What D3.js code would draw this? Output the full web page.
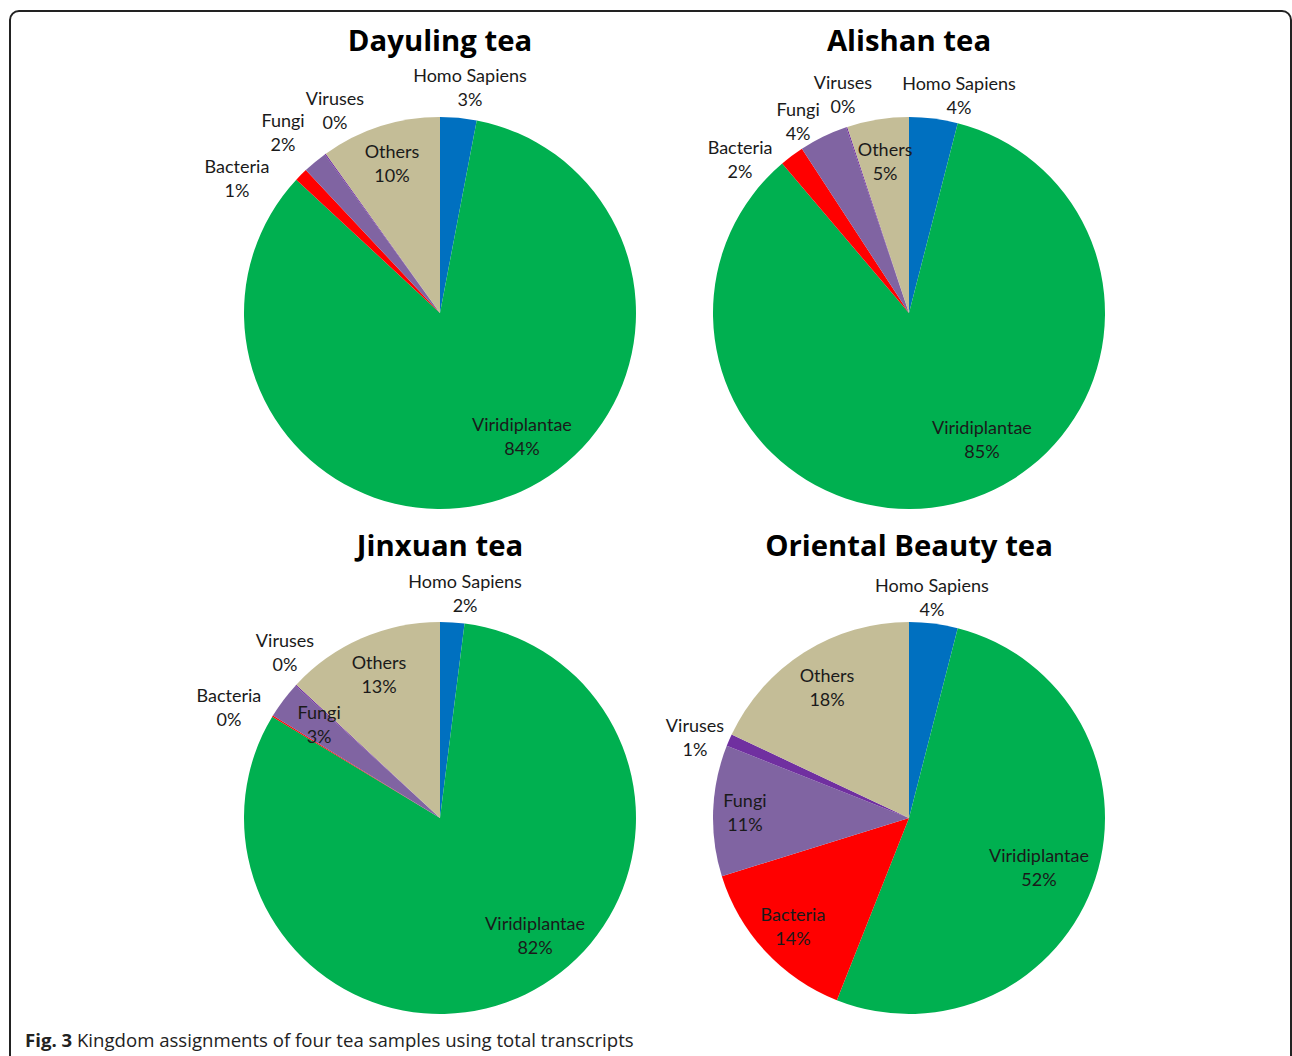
<!DOCTYPE html>
<html>
<head>
<meta charset="utf-8">
<script src="https://cdn.jsdelivr.net/npm/d3@7"></script>
<style>
  body { margin: 0; background: #fff; }
  svg { display: block; }
  .lbl { font-family: Lato, "Open Sans", sans-serif; font-size: 18px; fill: #1a1a1a; }
  .title { font-family: "Open Sans", Lato, sans-serif; font-weight: bold; font-size: 29.3px; fill: #000; }
  .caption { font-family: "Open Sans", Lato, sans-serif; font-size: 18.6px; fill: #222; }
</style>
</head>
<body>
<svg id="chart" width="1292" height="1056"></svg>
<script>
// categories in drawing order (clockwise from 12 o'clock)
var kingdoms = ["Homo Sapiens", "Viridiplantae", "Bacteria", "Fungi", "Viruses", "Others"];
var kingdomColors = ["#0070C0", "#00B050", "#FF0000", "#8064A2", "#7030A0", "#C4BD97"];

var samples = ["Dayuling tea", "Alishan tea", "Jinxuan tea", "Oriental Beauty tea"];

// percentages
var dayuling = [3.0, 83.9, 1.1, 2.0, 0.1, 9.9];
var alishan = [4.0, 84.8, 2.0, 4.0, 0.1, 5.1];
var jinxuan = [2.0, 81.65, 0.1, 3.05, 0.1, 13.1];
var orientalBeauty = [4.0, 52.0, 14.2, 10.8, 1.0, 18.0];

var sampleValues = [dayuling, alishan, jinxuan, orientalBeauty];

// label placement (offset from pie centre, in units of the radius), like Excel's best fit
var labelLayout = [
    [[0.153, -1.148], [0.418, 0.633], [-1.036, -0.684], [-0.801, -0.918], [-0.536, -1.031], [-0.245, -0.760]],
    [[0.255, -1.107], [0.372, 0.648], [-0.862, -0.781], [-0.566, -0.974], [-0.337, -1.112], [-0.122, -0.770]],
    [[0.128, -1.143], [0.485, 0.602], [-1.077, -0.561], [-0.617, -0.474], [-0.791, -0.842], [-0.311, -0.730]],
    [[0.117, -1.122], [0.663, 0.255], [-0.592, 0.556], [-0.837, -0.026], [-1.092, -0.408], [-0.418, -0.663]]
];

var svg = d3.select("#chart");

// frame
svg.append("rect")
    .attr("x", 10).attr("y", 11)
    .attr("width", 1281).attr("height", 1080)
    .attr("rx", 9)
    .attr("fill", "none")
    .attr("stroke", "#222")
    .attr("stroke-width", 2);

var col = d3.scaleOrdinal().domain([0, 1]).range([440, 909]);
var row = d3.scaleOrdinal().domain([0, 1]).range([313, 818]);
var radius = 196;

var color = d3.scaleOrdinal().domain(kingdoms).range(kingdomColors);
var pct = d3.format(".0%");

var pie = d3.pie().sort(null).value(d => d.value);
var arc = d3.arc().innerRadius(0).outerRadius(radius);

samples.forEach(function (name, i) {
    var cx = col(i % 2), cy = row(Math.floor(i / 2));
    var data = kingdoms.map((k, j) => ({ kingdom: k, value: sampleValues[i][j] }));
    var total = d3.sum(data, d => d.value);

    var g = svg.append("g").attr("transform", "translate(" + cx + "," + cy + ")");

    g.selectAll("path")
        .data(pie(data))
        .enter()
        .append("path")
        .attr("d", arc)
        .attr("fill", d => color(d.data.kingdom));

    svg.append("text")
        .attr("class", "title")
        .attr("x", cx)
        .attr("y", cy - 262)
        .attr("text-anchor", "middle")
        .text(name);

    var labels = g.selectAll(".lbl")
        .data(data)
        .enter()
        .append("text")
        .attr("class", "lbl")
        .attr("text-anchor", "middle")
        .attr("transform", (d, j) => "translate(" + labelLayout[i][j][0] * radius + "," + labelLayout[i][j][1] * radius + ")");

    labels.append("tspan").attr("x", 0).attr("y", -6).text(d => d.kingdom);
    labels.append("tspan").attr("x", 0).attr("y", 18).text(d => pct(d.value / total));
});

var cap = svg.append("text")
    .attr("class", "caption")
    .attr("x", 25)
    .attr("y", 1047);
cap.append("tspan").attr("font-weight", "bold").text("Fig. 3");
cap.append("tspan").text(" Kingdom assignments of four tea samples using total transcripts");
</script>
</body>
</html>
